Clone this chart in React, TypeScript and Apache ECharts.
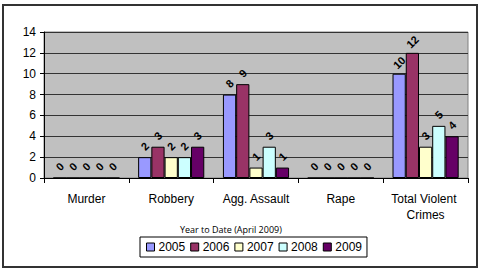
import React, { useEffect, useRef } from "react";
import * as echarts from "echarts";

const categories = ["Murder", "Robbery", "Agg. Assault", "Rape", "Total Violent Crimes"];
const years = ["2005", "2006", "2007", "2008", "2009"];
const values2005 = [0, 2, 8, 0, 10];
const values2006 = [0, 3, 9, 0, 12];
const values2007 = [0, 2, 1, 0, 3];
const values2008 = [0, 2, 3, 0, 5];
const values2009 = [0, 3, 1, 0, 4];
const yTicks = [0, 2, 4, 6, 8, 10, 12, 14];
const legendTitle = "Year to Date (April 2009)";

const colors = ["#9999FF", "#993366", "#FFFFCC", "#CCFFFF", "#660066"];
const seriesValues = [values2005, values2006, values2007, values2008, values2009];

export default function App() {
  const ref = useRef<HTMLDivElement>(null);
  useEffect(() => {
    document.body.style.margin = "0";
    const chart = echarts.init(ref.current!, null, { renderer: "svg" });
    chart.setOption({
      animation: false,
      backgroundColor: "#fff",
      textStyle: { fontFamily: "Liberation Sans, Arial, sans-serif" },
      grid: {
        left: 44,
        right: 13,
        top: 32,
        bottom: 96,
        show: true,
        backgroundColor: "#C0C0C0",
        borderColor: "#808080",
        borderWidth: 1,
      },
      graphic: [
        {
          type: "rect",
          shape: { x: 3, y: 5, width: 474, height: 262 },
          style: { fill: "none", stroke: "#333", lineWidth: 2 },
          silent: true,
        },
        {
          type: "text",
          left: 180,
          top: 225,
          style: {
            text: legendTitle,
            font: "9px 'Open Sans', 'Liberation Sans', sans-serif",
            fill: "#000",
          },
        },
      ],
      legend: {
        data: years,
        left: 140,
        top: 237,
        orient: "horizontal",
        itemWidth: 8,
        itemHeight: 8,
        itemGap: 5,
        padding: [4, 5, 4, 6],
        borderColor: "#000",
        borderWidth: 1,
        backgroundColor: "#fff",
        textStyle: { fontSize: 12, color: "#000", padding: [0, 0, 0, -1] },
        icon: "rect",
        itemStyle: { borderColor: "#000", borderWidth: 1 },
      },
      xAxis: {
        type: "category",
        data: categories,
        axisLine: { lineStyle: { color: "#000" } },
        axisTick: { show: true, length: 5, lineStyle: { color: "#000" } },
        axisLabel: {
          interval: 0,
          fontSize: 12,
          color: "#000",
          margin: 13,
          width: 82,
          overflow: "break",
          lineHeight: 16,
        },
      },
      yAxis: {
        type: "value",
        min: 0,
        max: yTicks[yTicks.length - 1],
        interval: 2,
        axisLine: { show: true, lineStyle: { color: "#000" } },
        axisTick: { show: true, length: 4, lineStyle: { color: "#000" } },
        axisLabel: { fontSize: 12, color: "#000", margin: 8 },
        splitLine: { show: true, lineStyle: { color: "#333", width: 1 } },
      },
      series: years.map((y, i) => ({
        name: y,
        type: "bar",
        data: seriesValues[i],
        barCategoryGap: "22%",
        barGap: "0%",
        itemStyle: { color: colors[i], borderColor: "#000", borderWidth: 1 },
        label: {
          show: true,
          position: "top",
          distance: 11,
          rotate: 45,
          align: "center",
          verticalAlign: "middle",
          fontSize: 11,
          fontWeight: "bold",
          color: "#000",
        },
      })),
    });
    return () => chart.dispose();
  }, []);
  return <div ref={ref} style={{ width: 481, height: 274 }} />;
}
